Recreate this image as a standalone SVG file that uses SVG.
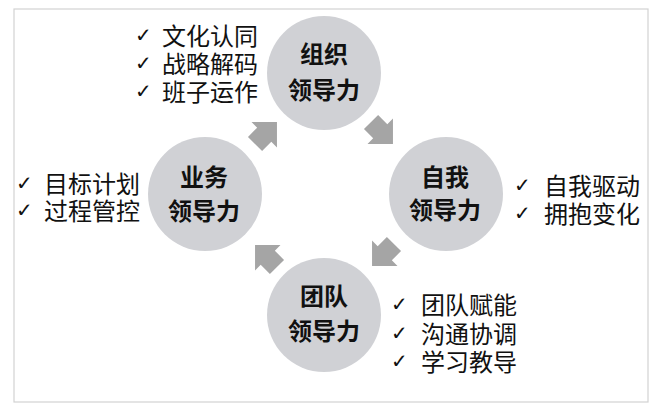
<svg xmlns="http://www.w3.org/2000/svg" width="662" height="416" viewBox="0 0 662 416">
<defs>
<style>
.frame{fill:#fff;stroke:#d2d2d2;stroke-width:1.2}
.node{fill:#d0d1d5}
.arrow{fill:#a5a5a5}
.t{font-family:"Noto Sans CJK SC","Noto Sans",sans-serif;font-size:24px;fill:#111}
.tb{font-family:"Noto Sans CJK SC","Noto Sans",sans-serif;font-size:24px;font-weight:bold;fill:#111;text-anchor:middle}
.ck{font-family:"DejaVu Sans",sans-serif;font-size:20px;fill:#111}
</style>
<path id="arr" d="M-15.5,-10 L-2.5,-10 L-2.5,-18 L15.5,0 L-2.5,18 L-2.5,10 L-15.5,10 Z"/>
</defs>
<rect width="662" height="416" fill="#fff"/>
<rect class="frame" x="14" y="9" width="634" height="393"/>
<g id="connectors">
<use href="#arr" class="arrow" transform="translate(266,133) rotate(-45)"/>
<use href="#arr" class="arrow" transform="translate(382,133) rotate(45)"/>
<use href="#arr" class="arrow" transform="translate(383,255) rotate(135)"/>
<use href="#arr" class="arrow" transform="translate(266,256) rotate(-135)"/>
</g>
<g id="node-org">
<circle class="node" cx="324" cy="73" r="57"/>
<text class="tb" x="324" y="63">组织</text>
<text class="tb" x="324" y="99">领导力</text>
</g>
<g id="node-self">
<circle class="node" cx="446" cy="194" r="57"/>
<text class="tb" x="445" y="186">自我</text>
<text class="tb" x="445" y="219">领导力</text>
</g>
<g id="node-team">
<circle class="node" cx="324" cy="315" r="57"/>
<text class="tb" x="324" y="305">团队</text>
<text class="tb" x="324" y="340">领导力</text>
</g>
<g id="node-biz">
<circle class="node" cx="205" cy="194" r="57"/>
<text class="tb" x="204" y="186">业务</text>
<text class="tb" x="204" y="220">领导力</text>
</g>
<g id="list-org">
<text class="ck" x="135" y="42">✓</text><text class="t" x="162" y="45">文化认同</text>
<text class="ck" x="135" y="70">✓</text><text class="t" x="162" y="73">战略解码</text>
<text class="ck" x="135" y="98">✓</text><text class="t" x="162" y="101">班子运作</text>
</g>
<g id="list-biz">
<text class="ck" x="16" y="190">✓</text><text class="t" x="44" y="193">目标计划</text>
<text class="ck" x="16" y="217">✓</text><text class="t" x="44" y="220">过程管控</text>
</g>
<g id="list-self">
<text class="ck" x="514" y="192">✓</text><text class="t" x="544" y="195">自我驱动</text>
<text class="ck" x="514" y="220">✓</text><text class="t" x="544" y="223">拥抱变化</text>
</g>
<g id="list-team">
<text class="ck" x="391" y="311">✓</text><text class="t" x="421" y="314">团队赋能</text>
<text class="ck" x="391" y="340">✓</text><text class="t" x="421" y="343">沟通协调</text>
<text class="ck" x="391" y="368">✓</text><text class="t" x="421" y="371">学习教导</text>
</g>
</svg>
